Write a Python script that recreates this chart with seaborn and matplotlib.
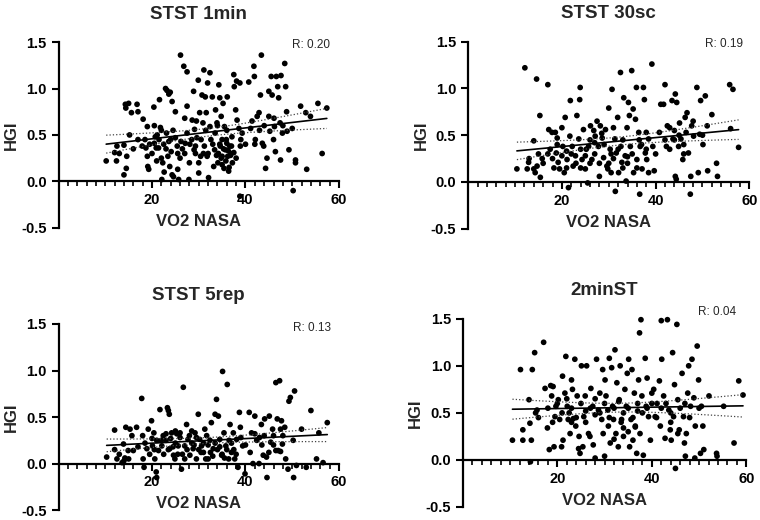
import numpy as np
import pandas as pd
import matplotlib
matplotlib.use('Agg')
import matplotlib.pyplot as plt
import seaborn as sns
from matplotlib.ticker import MultipleLocator, FormatStrFormatter

sns.set_theme(style='white')
plt.rcParams['font.family'] = ['Liberation Sans', 'DejaVu Sans']

TITLES = ['STST 1min', 'STST 30sc', 'STST 5rep', '2minST']
R_LABELS = ['R: 0.20', 'R: 0.19', 'R: 0.13', 'R: 0.04']
Y_TICKS = [-0.5, 0.0, 0.5, 1.0, 1.5]
X_TICKS = [20, 40, 60]

# (VO2 NASA, HGI)
stst_1min = [
    (10.2, 0.22), (12, 0.31), (12.5, 0.38), (12.4, 0.22), (14, 0.07), (14, 0.39), (14.3, 0.83), (15, 0.84),
    (14.4, 0.79), (14.6, 0.27), (14.5, 0.14), (15.2, 0.50), (15.6, 0.74), (16.8, 0.83), (17, 0.75), (17.9, 0.38),
    (18.1, 0.67), (19, 0.59), (18.7, 0.36), (19, 0.27), (19.1, 0.16), (19.3, 0.13), (20.4, 0.80), (20.5, 0.60),
    (20.5, 0.41), (20.7, 0.48), (20.9, 0.36), (21.1, 0.50), (21.4, 0.36), (21.6, 0.88), (21.8, 0.58), (22, 0.25),
    (22.1, 0.02), (22.3, 0.20), (22.6, 0.10), (22.9, 1.00), (23.2, 0.98), (23.6, 0.94), (23.1, 0.52), (23.4, 0.27),
    (23.6, 0.43), (23.8, 0.16), (23.9, 0.96), (24.3, 0.86), (24.1, 0.32), (24.3, 0.07), (24.6, 0.05), (25, 0.75),
    (25, 0.47), (25.4, 0.38), (25.7, 0.02), (25.5, 0.13), (26.1, 1.36), (26.2, 0.43), (26.8, 1.24), (27, 0.68),
    (27.1, 0.41), (27.5, 1.18), (27.5, 0.81), (27.9, 0.02), (28.1, 0.40), (28.6, 0.66), (28.9, 0.97), (29.1, 0.56),
    (29.3, 0.38), (29.3, 0.30), (29.6, 0.47), (29.9, 1.09), (30, 0.09), (30.2, 0.74), (30.4, 0.27), (30.7, 0.93),
    (30.9, 0.63), (31.1, 1.20), (31.2, 0.38), (31.4, 0.91), (31.6, 0.74), (31.8, 0.27), (31.9, 1.06), (32.1, 0.04),
    (32.4, 1.17), (32.4, 0.59), (32.6, 0.45), (32.9, 0.91), (33.2, 0.16), (33.4, 0.34), (33.6, 0.77), (33.9, 0.63),
    (34.1, 0.20), (34.3, 1.04), (34.5, 0.90), (34.6, 0.38), (34.8, 0.70), (35, 0.27), (35.2, 0.84), (35.4, 0.14),
    (35.5, 0.59), (35.7, 0.34), (35.9, 0.45), (36.1, 0.91), (36.2, 0.27), (36.4, 0.11), (36.6, 0.38), (36.9, 0.30),
    (37.1, 0.48), (37.5, 1.15), (37.6, 1.02), (37.9, 0.77), (38.1, 1.08), (38.2, 0.66), (38.8, -0.16), (38.6, 0.57),
    (38.8, 1.06), (38.9, 0.38), (39.3, 0.52), (40.7, 1.07), (41.1, 0.57), (41.4, 0.65), (41.8, 1.24), (41.9, 1.13),
    (42.1, 0.45), (42.5, 0.70), (42.9, 0.74), (43.2, 0.93), (43.4, 1.36), (43.6, 0.41), (43.9, 0.38), (44.3, 0.14),
    (44.6, 0.25), (45, 0.97), (45.2, 0.54), (45.5, 1.13), (45.7, 0.93), (46.1, 0.68), (46.2, 0.59), (46.4, 0.32),
    (46.6, 1.13), (46.9, 1.02), (47.1, 0.90), (47.4, 0.63), (47.5, 0.23), (47.6, 1.14), (47.9, 0.52), (48.4, 1.27),
    (48.6, 1.02), (48.8, 0.75), (48.9, 0.54), (49.3, 0.34), (50, 0.57), (50.2, -0.10), (50.7, 0.23), (50.7, 0.20),
    (51.8, 0.81), (53.1, 0.13), (52.9, 0.74), (53.9, 0.70), (55.5, 0.84), (56.4, 0.30), (57.4, 0.79),
    (34.2, 0.30), (34.8, 0.25), (35.3, 0.35), (35.8, 0.22), (36.3, 0.33), (36.8, 0.28), (37.2, 0.20), (34.5, 0.40),
    (35.0, 0.18), (36.0, 0.41), (33.8, 0.28), (37.5, 0.31), (36.5, 0.15), (29.0, 0.34), (30.0, 0.20), (31.0, 0.30),
    (22.5, 0.40), (24.0, 0.45), (26.5, 0.35), (27.5, 0.52),
    (18.5, 0.45), (19.5, 0.40), (20, 0.30), (21, 0.22), (21.5, 0.45), (22, 0.55), (23, 0.35), (24.5, 0.55),
    (25.5, 0.30), (26, 0.25), (27, 0.30), (28, 0.20), (28.5, 0.45), (29.5, 0.65), (30.5, 0.45), (31.5, 0.55),
    (32, 0.30), (33, 0.40), (33.5, 0.52), (34, 0.60), (35, 0.45), (36, 0.55), (37, 0.38), (38, 0.25),
    (39, 0.45), (40, 0.40), (42, 0.40), (44, 0.60), (46, 0.45), (48, 0.60), (45, 0.70), (43, 0.55),
    (16, 0.35), (17, 0.45), (13, 0.30),
]

stst_30sc = [
    (10.4, 0.14), (12.1, 1.22), (12.9, 0.21), (12.6, 0.14), (14, 0.44), (14, 0.14), (14.3, 0.10), (14.6, 1.10),
    (14.7, 0.17), (15.3, 0.71), (15.4, 0.05), (15.8, 0.25), (17, 1.04), (17.2, 0.56), (17.5, 0.35), (17.9, 0.53),
    (18.3, 0.15), (18.6, 0.53), (18.8, 0.31), (19, 0.47), (19.2, 0.21), (19.5, 0.14), (20, 0.58), (20.2, 0.38),
    (20.5, 0.10), (20.7, 0.69), (21.1, 0.24), (21.4, -0.06), (21.7, 0.49), (21.8, 0.87), (22.2, 0.38), (22.4, 0.17),
    (22.9, 0.28), (23.2, 0.71), (23.6, 0.46), (23.8, 0.88), (23.9, 1.01), (24.3, 0.24), (24.6, 0.56), (25, 0.14),
    (25.2, 0.35), (25.5, -0.01), (25.7, 0.38), (26.1, 0.60), (26.4, 0.24), (26.8, 0.55), (27.1, 0.49), (27.5, 0.65),
    (27.8, 0.38), (28, 0.06), (28.2, 0.60), (28.6, 0.47), (28.9, 0.26), (29.3, 0.56), (29.6, 0.17), (29.8, 0.14),
    (30, 0.79), (30.3, 0.35), (30.5, 0.10), (30.7, 0.99), (31, 0.58), (31.3, 0.46), (31.4, -0.10), (31.6, 0.31),
    (31.9, 0.69), (32.1, 0.10), (32.5, 1.17), (32.6, 0.38), (32.8, 0.21), (33.2, 0.90), (33.5, 0.28), (33.7, 0.01),
    (33.9, 0.58), (34.2, 0.85), (34.4, 0.71), (34.6, 0.38), (34.9, 1.19), (35.2, 0.78), (35.3, 0.10), (35.7, 0.67),
    (35.9, 1.01), (36, 0.24), (36.4, 0.53), (36.6, -0.13), (36.7, 0.38), (37.1, 0.14), (37.4, 1.01), (37.6, 0.88),
    (37.8, 0.31), (38, 0.53), (38.1, 0.24), (38.5, 0.46), (39.2, 1.26), (39.4, 0.38), (39.7, 0.12), (40.8, 0.53),
    (41.1, 0.83), (41.7, 0.83), (42, 1.04), (42.3, 0.38), (42.5, 0.60), (43, 0.58), (43.5, 0.87), (43.7, 0.46),
    (44.2, 0.94), (44.2, 0.06), (44.4, 0.03), (44.5, 0.85), (44.9, 0.38), (45.1, 0.63), (45.4, 0.46), (45.8, 0.24),
    (46.3, 0.69), (46.5, 0.53), (46.7, 0.74), (47, 0.31), (47.4, -0.13), (47.5, 0.06), (47.7, 0.60), (48.1, 0.49),
    (48.8, 1.01), (49.1, 0.10), (49.4, 0.51), (49.6, 0.87), (50.1, 0.40), (50.6, 0.92), (51, 0.60), (51.1, 0.12),
    (52, 0.72), (53, 0.20), (53.2, 0.06), (55.8, 1.04), (56.5, 0.99), (56, 0.57), (57.7, 0.37),
    (27.0, 0.42), (28.5, 0.52), (26.0, 0.20), (30.5, 0.30), (33.0, 0.15), (34.0, 0.27), (36.5, 0.45), (21.0, 0.33),
    (24.0, 0.15), (38.5, 0.10), (44.0, 0.45), (46.0, 0.40),
    (16, 0.20), (17, 0.30), (18, 0.25), (19, 0.40), (20, 0.28), (21, 0.15), (22, 0.30), (23, 0.20),
    (24, 0.35), (25, 0.28), (26, 0.45), (27, 0.30), (28, 0.20), (29, 0.40), (30, 0.20), (31, 0.25),
    (32, 0.35), (33, 0.45), (34, 0.20), (35, 0.30), (36, 0.15), (37, 0.40), (38, 0.35), (40, 0.30),
    (42, 0.45), (44, 0.55), (46, 0.30), (48, 0.65), (50, 0.50), (45, 0.50), (43, 0.35), (13, 0.25),
    (15, 0.30),
]

stst_5rep = [
    (10.3, 0.07), (12, 0.36), (12.5, 0.05), (13.6, 0.01), (13.9, 0.21), (14.4, 0.39), (14.2, 0.06), (14.9, 0.14),
    (15.3, 0.37), (15.7, 0.30), (16.7, 0.39), (17.8, 0.70), (18, 0.30), (18.1, 0.05), (18.3, -0.04), (18.9, 0.16),
    (19.2, 0.37), (19.9, 0.46), (20.1, 0.19), (20.4, 0.33), (20.6, 0.05), (20.9, -0.09), (21, -0.15), (21.4, 0.14),
    (21.7, 0.58), (22.1, 0.19), (22.4, 0.30), (23, 0.25), (23.3, 0.60), (23.5, 0.57), (23.7, 0.53), (23.8, 0.16),
    (24.2, 0.33), (24.6, 0.09), (24.9, 0.05), (25.3, 0.32), (25.6, 0.19), (26, 0.33), (26.3, -0.06), (26.7, 0.82),
    (27, 0.19), (27.4, 0.42), (27.7, 0.26), (28.1, 0.09), (28.5, 0.35), (28.8, 0.16), (29.2, 0.33), (29.5, 0.05),
    (29.9, 0.53), (30.2, 0.26), (30.6, 0.19), (31, 0.12), (31.3, 0.37), (31.7, 0.30), (32, 0.05), (32.4, 0.25),
    (32.7, 0.44), (33.1, 0.16), (33.5, 0.53), (33.8, 0.69), (34.2, 0.51), (34.5, 0.26), (34.9, 0.09), (35.1, 0.99),
    (35.4, 0.33), (35.8, 0.19), (36.1, 0.85), (36.4, 0.05), (36.7, 0.42), (37, 0.12), (37.4, 0.33), (37.7, 0.05),
    (38.1, 0.26), (38.4, -0.04), (38.7, 0.55), (38.9, 0.39), (39.4, 0.19), (39.9, -0.11), (40.8, 0.55), (41.3, 0.33),
    (41.6, 0.00), (42, 0.51), (42.4, 0.25), (42.9, 0.00), (43.4, 0.42), (43.8, 0.09), (44.1, 0.48), (44.5, 0.07),
    (44.6, -0.15), (45.1, 0.51), (45.4, 0.23), (45.8, 0.37), (46, 0.30), (46.5, 0.87), (46.8, 0.48), (47, 0.14),
    (47.3, 0.89), (47.5, 0.37), (47.7, 0.46), (47.9, 0.21), (48.4, 0.39), (48.6, 0.05), (49.1, -0.06), (49.3, 0.67),
    (49.6, 0.71), (50.2, 0.25), (50.3, -0.15), (50.5, 0.78), (50.9, -0.02), (52, 0.37), (53, -0.04), (54, 0.57),
    (55.2, 0.05), (55.7, 0.33), (56.6, 0.01), (57.5, 0.44),
    (22.0, 0.25), (23.5, 0.15), (25.0, 0.22), (26.5, 0.10), (28.0, 0.30), (29.0, 0.20), (30.5, 0.12), (32.0, 0.20),
    (33.0, 0.08), (34.0, 0.15), (35.5, 0.06), (36.5, 0.25), (37.5, 0.15), (31.5, 0.05), (27.0, 0.05), (24.0, 0.27),
    (20.0, 0.27), (16.0, 0.14), (14.0, 0.03), (45.0, 0.12), (46.5, 0.14), (47.5, 0.13), (42.0, 0.32), (43.0, 0.28),
    (15, 0.05), (17, 0.18), (18.5, 0.22), (19.5, 0.10), (21, 0.25), (22.5, 0.10), (23, 0.32), (24.5, 0.18),
    (25.5, 0.10), (26, 0.28), (27.5, 0.15), (28.5, 0.22), (29.5, 0.28), (30, 0.15), (31, 0.22), (32.5, 0.12),
    (33.5, 0.22), (34.5, 0.18), (35, 0.10), (36, 0.15), (37, 0.22), (38, 0.10), (39, 0.28), (40, 0.20),
    (41, 0.12), (43.5, 0.20), (44, 0.30), (46, 0.20), (48, 0.30), (12, 0.15), (13, 0.10), (20.5, 0.15),
    (25, 0.35),
]

two_min_st = [
    (10.5, 0.21), (12.2, 0.96), (12.7, 0.32), (12.7, 0.21), (14, 0.64), (14.2, 0.39), (14.3, -0.02), (14.5, 0.21),
    (14.7, 0.96), (15.2, 1.14), (15.4, 0.50), (15.7, 0.53), (17.1, 1.25), (17.4, 0.76), (17.9, 0.34), (18.3, 0.11),
    (18.6, 0.79), (18.8, 0.68), (19.1, 0.78), (19.3, 0.14), (19.5, 0.46), (19.7, 0.57), (20.2, 0.64), (20.5, 0.43),
    (20.9, 0.14), (21.1, 0.89), (21.2, 0.21), (21.6, 0.71), (21.8, 1.10), (22.1, 0.57), (22.3, 0.43), (22.7, 0.28),
    (23, 0.85), (23.2, 0.75), (23.4, 0.44), (23.7, 1.07), (23.9, 0.36), (24.2, 0.68), (24.6, 0.25), (24.8, 0.07),
    (25.1, 1.00), (25.4, 0.14), (25.6, 0.46), (25.9, 0.68), (26.2, 1.00), (26.6, 0.28), (26.9, 0.25), (27.1, 0.76),
    (27.5, 0.57), (27.6, 0.16), (28, 0.02), (28.3, 1.07), (28.7, 0.53), (29, 0.71), (29.4, 0.43), (29.6, 0.96),
    (29.7, 0.28), (30, 0.04), (30.1, 0.85), (30.3, 0.68), (30.7, 0.53), (30.8, 0.36), (31, 1.08), (31.2, 0.18),
    (31.5, 0.98), (31.7, 0.57), (31.9, 0.43), (32.2, 1.17), (32.4, 0.28), (32.6, 0.82), (32.9, 0.14), (33.1, 0.64),
    (33.3, 1.00), (33.6, 0.43), (34, 0.34), (34.3, 0.75), (34.6, 0.57), (34.8, 0.92), (35.1, 1.07), (35.3, 0.14),
    (35.6, 0.43), (35.8, 0.96), (36, 0.21), (36.3, 0.71), (36.5, 0.36), (36.8, 0.07), (37, 0.52), (37.2, 0.85),
    (37.4, 1.35), (37.5, 0.28), (37.7, 1.49), (37.9, 0.68), (38.2, 0.05), (38.6, 1.08), (38.8, 0.57), (39, 0.87),
    (39.3, 0.46), (39.7, 0.21), (40, 0.71), (40.4, 0.75), (40.7, 0.46), (41.1, 0.60), (41.6, 0.84), (41.8, 0.36),
    (42, 1.48), (42.1, 1.07), (42.5, 0.68), (42.8, 0.23), (43.3, 1.49), (43.6, 0.53), (43.9, 0.32), (44.1, 0.21),
    (44.4, 1.14), (44.6, 0.46), (44.8, 0.80), (45, -0.09), (45.3, 1.44), (45.5, 0.64), (45.8, 0.32), (46.4, 0.92),
    (46.7, 0.46), (46.9, 0.18), (47.1, 0.04), (47.3, 0.28), (47.6, 0.71), (47.8, 1.00), (48.2, 0.57), (48.5, 1.07),
    (48.9, 0.66), (49.1, 0.02), (49.2, 0.36), (49.6, 1.21), (49.9, 0.85), (50.3, 0.07), (50.5, 0.57), (50.8, 0.36),
    (51, 0.11), (52.1, 0.68), (53.7, 0.07), (53.8, 0.04), (55.2, 0.57), (57.4, 0.18), (58.4, 0.84), (59.3, 0.69),
    (22.5, 0.50), (26.0, 0.52), (28.0, 0.48), (33.5, 0.40), (35.0, 0.30), (36.5, 0.35), (34.0, 0.25), (32.0, 0.22),
    (23.0, 0.40), (24.5, 0.12), (45.5, 0.28), (44.0, 0.40),
    (18, 0.55), (19, 0.40), (20, 0.60), (21, 0.50), (22, 0.65), (23, 0.55), (24, 0.45), (25, 0.60),
    (26, 0.40), (27, 0.55), (28, 0.65), (29, 0.50), (30, 0.60), (31, 0.45), (32, 0.55), (33, 0.62),
    (34, 0.50), (35, 0.55), (36, 0.45), (37, 0.60), (38, 0.50), (39, 0.55), (40, 0.60), (41, 0.45),
    (42, 0.55), (43, 0.60), (44, 0.50), (46, 0.55), (47, 0.60), (48, 0.45), (16, 0.45), (50, 0.55),
]

PANELS = [stst_1min, stst_30sc, stst_5rep, two_min_st]
# axes boxes [left, bottom, width, height] in figure fractions
BOXES = [
    [0.077, 0.562, 0.369, 0.357],
    [0.616, 0.560, 0.370, 0.360],
    [0.077, 0.019, 0.369, 0.358],
    [0.609, 0.025, 0.373, 0.362],
]
R_POS = [(54, 1.47), (54.5, 1.47), (54.3, 1.46), (53.8, 1.57)]


def draw_panel(ax, pts, title, r_label, r_pos):
    df = pd.DataFrame(pts, columns=['VO2 NASA', 'HGI'])
    sns.scatterplot(data=df, x='VO2 NASA', y='HGI', ax=ax, color='black',
                    s=17, edgecolor='none', linewidth=0, clip_on=False, zorder=3)

    # linear fit with 95% confidence band of the mean
    x = df['VO2 NASA'].to_numpy()
    y = df['HGI'].to_numpy()
    slope, icpt = np.polyfit(x, y, 1)
    xs = np.linspace(x.min(), x.max(), 100)
    fit = icpt + slope * xs
    n = len(x)
    resid = y - (icpt + slope * x)
    s_err = np.sqrt((resid ** 2).sum() / (n - 2))
    se = s_err * np.sqrt(1 / n + (xs - x.mean()) ** 2 / ((x - x.mean()) ** 2).sum())
    ax.plot(xs, fit, color='black', lw=1.2, zorder=4)
    ax.plot(xs, fit + 1.97 * se, color='#444444', lw=0.9, ls=':', zorder=4)
    ax.plot(xs, fit - 1.97 * se, color='#444444', lw=0.9, ls=':', zorder=4)

    ax.set_xlim(0, 60)
    ax.set_ylim(-0.5, 1.5)
    ax.spines['bottom'].set_position(('data', 0))
    ax.spines['top'].set_visible(False)
    ax.spines['right'].set_visible(False)
    for side in ['left', 'bottom']:
        ax.spines[side].set_linewidth(1.6)
        ax.spines[side].set_color('black')

    ax.set_xticks(X_TICKS)
    ax.xaxis.set_minor_locator(MultipleLocator(2))
    ax.set_yticks(Y_TICKS)
    ax.yaxis.set_major_formatter(FormatStrFormatter('%.1f'))
    ax.tick_params(axis='both', which='major', direction='out', length=5, width=1.5,
                   labelsize=10.5, color='black', labelcolor='black', bottom=True, left=True)
    ax.tick_params(axis='x', which='minor', direction='out', length=3.5, width=1.2,
                   color='black', bottom=True)
    for lab in ax.get_xticklabels() + ax.get_yticklabels():
        lab.set_fontweight('bold')

    ax.set_title(title, fontsize=13.5, fontweight='bold', pad=17)
    ax.set_xlabel('VO2 NASA', fontsize=12, fontweight='bold')
    ax.xaxis.set_label_coords(0.5, 0.075)
    ax.set_ylabel('HGI', fontsize=12, fontweight='bold')
    ax.yaxis.set_label_coords(-0.14, 0.5)
    ax.text(r_pos[0], r_pos[1], r_label, fontsize=8.5, ha='center', va='center')
    ax.set_facecolor('white')


fig = plt.figure(figsize=(7.6, 5.2), dpi=100)
for pts, title, r_label, box, r_pos in zip(PANELS, TITLES, R_LABELS, BOXES, R_POS):
    ax = fig.add_axes(box)
    draw_panel(ax, pts, title, r_label, r_pos)

fig.savefig('out.png', dpi=100, facecolor='white')
